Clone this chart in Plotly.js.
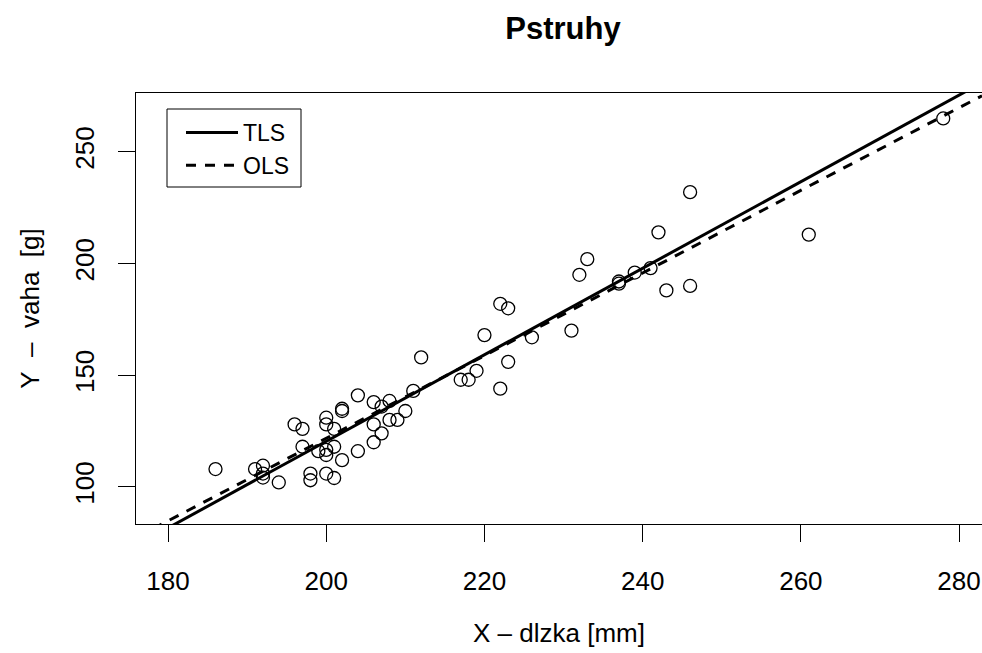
<!DOCTYPE html>
<html>
<head>
<meta charset="utf-8">
<script src="https://cdn.plot.ly/plotly-3.0.1.min.js"></script>
<style>html,body{margin:0;padding:0;background:#fff;}#chart{width:982px;height:653px;}</style>
</head>
<body>
<div id="chart"></div>
<script>
// Data: X - length [mm], Y - weight [g]
const dlzka = [186,191,192,192,192,194,196,197,197,198,198,199,200,200,200,200,200,201,201,201,202,202,202,204,204,
  212,211,210,209,208,208,207,206,206,207,206,217,218,219,220,222,223,223,222,226,
  231,232,233,237,237,239,241,242,243,246,246,261,278];
const vaha  = [108,108,109.5,106,104.2,102,128,126,118,106,103,116,131,128,116.6,114.3,106,126,118,104,135,134,112,141,116,
  158,143,134,130,130,138.5,136,138,128,124,120,148,148,152,168,182,180,156,144,167,
  170,195,202,192,191,196,198,214,188,232,190,213,265];
// Fitted lines (intercept, slope)
const lineNames = ["TLS", "OLS"];
const intercepts = [-267.2, -248.2];
const slopes = [1.938, 1.85];
const xRange = [175.95, 282.9];
const yRange = [83.4, 276.4];
const xTicks = [180, 200, 220, 240, 260, 280];
const yTicks = [100, 150, 200, 250];

const FONT = "Liberation Sans, Arial, Helvetica, sans-serif";
const dashes = ["solid", "10px,9px"];
const SP2 = "\u00a0\u00a0";

const traces = lineNames.map((nm, i) => ({
  type: "scatter", mode: "lines", name: nm,
  x: xRange, y: xRange.map(v => intercepts[i] + slopes[i] * v),
  line: {color: "#000", width: 3, dash: dashes[i]},
  hoverinfo: "skip"
}));
traces.push({
  type: "scatter", mode: "markers", x: dlzka, y: vaha, showlegend: false,
  marker: {symbol: "circle-open", size: 13, color: "#000", line: {width: 1.3, color: "#000"}}
});

// plot-area geometry (px) used to place the legend frame
const PL = 136, PW = 846, PT = 93, PH = 431;
const px2x = p => (p - PL) / PW;
const py2y = p => (PT + PH - p) / PH;

const layout = {
  width: 982, height: 653,
  margin: {l: PL, r: 0, t: PT, b: 653 - PT - PH},
  paper_bgcolor: "#fff", plot_bgcolor: "#fff",
  font: {family: FONT, size: 26, color: "#000"},
  title: {text: "<b>Pstruhy</b>", font: {family: FONT, size: 31, color: "#000"},
          xref: "container", x: 563/982, xanchor: "center",
          yref: "container", y: 1 - 28/653, yanchor: "middle"},
  xaxis: {range: xRange, tickvals: xTicks, ticks: "outside", ticklen: 17, tickwidth: 1, tickcolor: "#000",
          showline: true, mirror: true, linecolor: "#000", linewidth: 1, showgrid: false, zeroline: false,
          ticklabelstandoff: 17, tickfont: {size: 26},
          title: {text: "X \u2013 dlzka [mm]", font: {size: 26}, standoff: 28}},
  yaxis: {range: yRange, tickvals: yTicks, ticks: "outside", ticklen: 17, tickwidth: 1, tickcolor: "#000",
          showline: true, mirror: false, linecolor: "#000", linewidth: 1, showgrid: false, zeroline: false,
          tickangle: -90, ticklabelstandoff: 14, tickfont: {size: 26},
          title: {text: "Y" + SP2 + "\u2013" + SP2 + "vaha" + SP2 + "[g]" + SP2,
                  font: {size: 26}, standoff: 22}},
  shapes: [{type: "rect", xref: "paper", yref: "paper", layer: "above",
            x0: px2x(167), x1: px2x(301), y0: py2y(187), y1: py2y(109),
            line: {color: "#000", width: 1}, fillcolor: "#fff"}],
  showlegend: true,
  legend: {x: px2x(181), y: py2y(111), xanchor: "left", yanchor: "top",
           borderwidth: 0, bgcolor: "rgba(0,0,0,0)",
           font: {size: 23}, tracegroupgap: 0, itemwidth: 52}
};

Plotly.newPlot("chart", traces, layout, {displayModeBar: false, staticPlot: true});
</script>
</body>
</html>
